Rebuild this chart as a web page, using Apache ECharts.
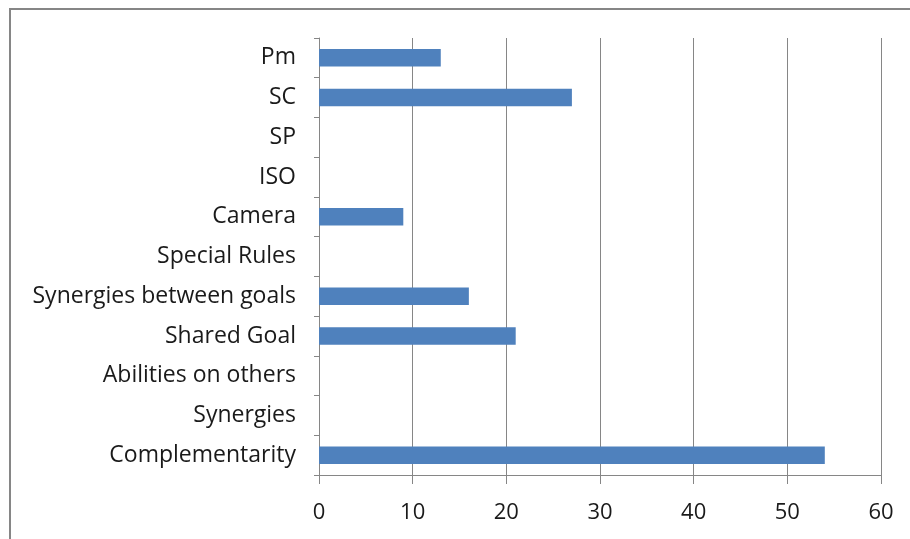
<!DOCTYPE html>
<html>
<head>
<meta charset="utf-8">
<script src="https://cdn.jsdelivr.net/npm/echarts@6/dist/echarts.min.js"></script>
<style>
  html, body { margin: 0; padding: 0; background: #fff; }
  #chart { width: 910px; height: 539px; }
</style>
</head>
<body>
<div id="chart"></div>
<script>
// Categories listed bottom to top
const categories = [
  'Complementarity', 'Synergies', 'Abilities on others', 'Shared Goal',
  'Synergies between goals', 'Special Rules', 'Camera', 'ISO', 'SP', 'SC', 'Pm'
];
const counts = [54, 0, 0, 21, 16, 0, 9, 0, 0, 27, 13];
const xTicks = [0, 10, 20, 30, 40, 50, 60];

const fontFamily = '"Open Sans", Lato, sans-serif';
const chart = echarts.init(document.getElementById('chart'));

chart.setOption({
  animation: false,
  graphic: [{
    type: 'rect',
    shape: { x: 10, y: 9, width: 940, height: 560 },
    style: { fill: 'none', stroke: '#868686', lineWidth: 2 },
    silent: true
  }],
  grid: { left: 319, right: 29, top: 38, bottom: 64, containLabel: false },
  xAxis: {
    type: 'value',
    min: xTicks[0],
    max: xTicks[xTicks.length - 1],
    interval: 10,
    axisLine: { show: true, lineStyle: { color: '#868686', width: 1 } },
    axisTick: { show: true, length: 9, lineStyle: { color: '#868686' } },
    axisLabel: { color: '#1a1a1a', fontSize: 22, fontFamily, margin: 27 },
    splitLine: { show: true, lineStyle: { color: '#868686', width: 1 } }
  },
  yAxis: {
    type: 'category',
    data: categories,
    axisLine: { show: true, lineStyle: { color: '#868686', width: 1 } },
    axisTick: { show: true, length: 5, alignWithLabel: false, lineStyle: { color: '#868686' } },
    axisLabel: { color: '#1a1a1a', fontSize: 23, fontFamily, margin: 23, padding: [4, 0, 0, 0] },
    splitLine: { show: false }
  },
  series: [{
    type: 'bar',
    data: counts,
    barCategoryGap: '56%',
    itemStyle: { color: '#4F81BD' }
  }]
});
</script>
</body>
</html>
